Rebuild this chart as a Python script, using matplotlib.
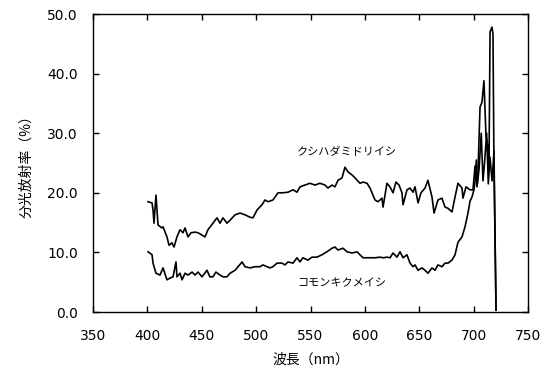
import matplotlib
matplotlib.use("Agg")
import matplotlib.pyplot as plt

# クシハダミドリイシ (upper curve)
wl_upper = [400.6, 404.3, 405.2, 406.1, 407.9, 409.8, 413.4, 414.4, 418.0, 419.9,
            422.6, 424.5, 427.2, 430.0, 432.8, 434.6, 437.4, 440.1, 443.8, 446.6,
            450.2, 453.0, 455.7, 460.3, 464.0, 466.8, 469.5, 473.2, 476.0, 480.6,
            485.2, 489.8, 494.4, 497.1, 500.8, 505.4, 508.2, 510.9, 515.5, 520.1,
            524.7, 529.3, 533.9, 537.6, 540.3, 544.9, 549.5, 554.1, 558.7, 563.3,
            566.1, 569.8, 572.5, 575.3, 579.0, 581.7, 584.5, 588.2, 590.9, 595.5,
            598.3, 602.0, 604.7, 609.3, 612.1, 615.7, 616.7, 620.3, 623.1, 625.9,
            628.6, 631.4, 634.1, 635.1, 638.7, 641.5, 644.3, 646.1, 648.9, 651.6,
            655.3, 658.0, 661.7, 663.6, 667.2, 670.9, 673.7, 676.4, 680.1, 682.9,
            685.6, 689.3, 690.2, 693.0, 696.7, 699.4, 701.3, 703.1, 704.0, 705.9,
            707.7, 709.5, 711.4, 713.2, 714.1, 715.1, 716.9, 717.8, 718.7, 720.6]
refl_upper = [18.5, 18.3, 17.1, 14.9, 19.6, 14.6, 14.1, 14.3, 12.6, 11.2,
              11.6, 10.9, 12.6, 13.8, 13.3, 14.1, 12.6, 13.3, 13.4, 13.3,
              12.9, 12.6, 13.8, 14.9, 15.8, 14.9, 15.8, 14.9, 15.4, 16.3,
              16.6, 16.3, 15.9, 15.8, 17.1, 18.0, 18.8, 18.5, 18.8, 20.0,
              20.0, 20.1, 20.5, 20.1, 21.0, 21.3, 21.6, 21.3, 21.6, 21.3,
              20.8, 21.3, 21.0, 22.1, 22.5, 24.3, 23.5, 23.0, 22.5, 21.6,
              21.8, 21.6, 20.8, 18.8, 18.5, 19.1, 17.6, 21.6, 21.0, 20.0,
              21.8, 21.3, 20.0, 18.0, 20.5, 20.8, 20.1, 21.0, 18.3, 20.0,
              20.8, 22.1, 19.3, 16.6, 18.8, 19.1, 17.6, 17.4, 16.8, 19.3,
              21.6, 20.8, 19.1, 21.0, 20.5, 20.5, 24.5, 21.0, 23.5, 34.4,
              35.2, 38.8, 29.4, 27.7, 23.7, 47.0, 47.8, 46.6, 24.7, 0.3]

# コモンキクメイシ (lower curve)
wl_lower = [400.6, 404.3, 405.2, 407.9, 411.6, 414.4, 418.0, 420.8, 423.6, 426.3,
            427.2, 430.0, 431.9, 434.6, 437.4, 441.1, 443.8, 446.6, 450.2, 454.8,
            457.5, 460.3, 463.0, 466.8, 469.5, 473.2, 476.0, 480.6, 483.4, 487.1,
            489.8, 494.4, 499.0, 503.6, 506.3, 510.0, 512.7, 515.5, 519.2, 523.8,
            526.5, 529.3, 533.9, 537.6, 540.3, 543.0, 547.6, 551.3, 555.9, 560.5,
            565.1, 569.8, 572.5, 575.3, 579.9, 583.6, 588.2, 592.8, 595.5, 598.3,
            604.7, 609.3, 613.9, 616.7, 620.3, 623.1, 625.9, 629.5, 632.3, 635.1,
            638.7, 641.5, 644.3, 646.1, 648.9, 652.5, 655.3, 658.0, 661.7, 664.5,
            667.2, 670.9, 673.7, 676.4, 680.1, 682.9, 685.6, 689.3, 692.1, 694.8,
            696.7, 698.5, 700.3, 701.3, 702.5, 703.5, 705.0, 707.0, 708.6, 710.0,
            712.0, 713.5, 715.0, 717.0, 718.7, 720.6]
refl_lower = [10.1, 9.6, 8.2, 6.5, 6.2, 7.4, 5.4, 5.7, 5.9, 8.4,
              5.9, 6.5, 5.4, 6.5, 6.2, 6.7, 6.2, 6.7, 5.9, 7.0,
              5.9, 5.9, 6.7, 6.2, 5.9, 5.9, 6.5, 7.0, 7.6, 8.4,
              7.6, 7.4, 7.6, 7.6, 7.9, 7.6, 7.4, 7.6, 8.2, 8.2,
              7.9, 8.4, 8.2, 9.1, 8.4, 9.1, 8.7, 9.2, 9.2, 9.6,
              10.1, 10.7, 10.9, 10.4, 10.7, 10.1, 9.9, 10.1, 9.6, 9.1,
              9.1, 9.1, 9.2, 9.1, 9.2, 9.1, 9.9, 9.2, 10.1, 9.1,
              9.6, 8.2, 7.6, 7.9, 7.0, 7.4, 7.0, 6.5, 7.4, 7.0,
              7.9, 7.6, 8.2, 8.2, 8.7, 9.6, 11.7, 12.6, 14.3, 16.6,
              18.6, 19.3, 20.5, 22.0, 25.5, 21.5, 24.0, 30.0, 22.0, 25.0,
              30.0, 21.5, 26.0, 22.0, 27.0, 0.3]

x_ticks = [350, 400, 450, 500, 550, 600, 650, 700, 750]
y_ticks = [0, 10, 20, 30, 40, 50]
label_upper = "クシハダミドリイシ"
label_lower = "コモンキクメイシ"

cjk = ["Noto Sans CJK JP", "DejaVu Sans"]

fig = plt.figure(figsize=(5.53, 3.76), dpi=100)
ax = fig.add_axes([93/553, 1-312/376, (528-93)/553, (312-14)/376])

ax.plot(wl_upper, refl_upper, color="black", lw=1.2)
ax.plot(wl_lower, refl_lower, color="black", lw=1.2)

ax.text(537.6, 26.8, label_upper, family=cjk, fontsize=8, va="center", ha="left")
ax.text(537.6, 4.9, label_lower, family=cjk, fontsize=8, va="center", ha="left")

ax.set_xlim(350, 750)
ax.set_ylim(0, 50)
ax.set_xticks(x_ticks)
ax.set_yticks(y_ticks)
ax.set_yticklabels([f"{v:.1f}" for v in y_ticks])
ax.tick_params(direction="in", length=4, width=1, top=True, right=True,
               labelsize=10)
ax.tick_params(axis="x", pad=12)
ax.tick_params(axis="y", pad=11)
for s in ax.spines.values():
    s.set_linewidth(1.0)

ax.set_xlabel("波長（nm）", family=cjk, fontsize=10, labelpad=7)
ax.set_ylabel("分光放射率（%）", family=cjk, fontsize=10, labelpad=10)

fig.savefig("out.png", dpi=100)
